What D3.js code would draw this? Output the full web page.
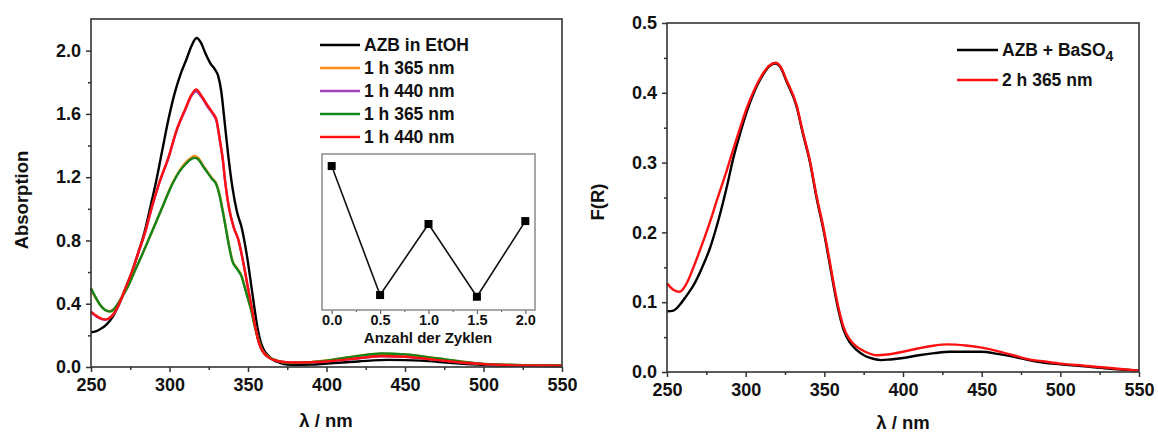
<!DOCTYPE html>
<html>
<head>
    <meta charset="utf-8" />
    <title>AZB spectra</title>
    <style>
        body { margin: 0; background: #fff; }
        svg text { font-family: "Liberation Sans", Arial, sans-serif; font-weight: bold; fill: #111; }
    </style>
</head>
<body>
    <div id="chart"></div>

    <script src="https://d3js.org/d3.v7.min.js"></script>
    <script>
        // ---- data ----
        // left panel: absorption spectra [lambda, A]
        const azbEtoh = [[250,.22],[253,.225],[256,.24],[260,.27],[264,.32],[268,.40],[272.5,.51],[276,.60],[280,.72],[284,.85],[288,1.02],[291.4,1.17],[295.4,1.37],[299,1.55],[303,1.72],[307,1.85],[311,1.95],[314,2.03],[317.3,2.08],[320,2.05],[323,1.98],[326,1.92],[329,1.88],[331,1.84],[333,1.74],[335,1.56],[337.5,1.33],[340,1.14],[343,0.98],[346,0.88],[348,0.78],[350,0.66],[352,0.52],[354,0.38],[356,0.25],[358,0.16],[360,0.11],[363,0.07],[366,0.045],[370,0.028],[375,0.015],[380,0.012],[390,0.015],[400,0.022],[420,0.035],[440,0.045],[460,0.04],[480,0.025],[500,0.013],[525,0.007],[550,0.004]];
        const cyc1uv = [[250,.49],[253,.435],[256,.39],[259,.36],[262,.352],[265,.37],[269,.43],[273.6,.51],[278,.61],[283,.72],[288.6,.85],[295,1.0],[302,1.165],[306,1.235],[310,1.29],[314,1.325],[316,1.335],[318,1.325],[322,1.265],[327,1.195],[330,1.155],[332,1.085],[334,0.985],[336,0.875],[338,0.765],[340,0.675],[343,0.625],[346,0.575],[348,0.505],[350,0.435],[352,0.365],[354,0.275],[356,0.195],[358.7,0.115],[362,0.072],[367,0.046],[372,0.031],[378,0.026],[390,0.031],[400,0.041],[420,0.07],[435,0.084],[450,0.079],[470,0.055],[490,0.03],[500,0.02],[525,0.012],[550,0.01]];
        const cyc1vis = [[250,.345],[254,.315],[259,.298],[263,.318],[267,.378],[272,.497],[276,.597],[280,.717],[284.4,.847],[289,1.017],[293.3,1.157],[299.5,1.327],[304.6,1.495],[310,1.625],[314,1.715],[317,1.742],[320,1.712],[324.5,1.642],[328,1.592],[330,1.552],[332,1.435],[334,1.305],[335.5,1.165],[338,1.0],[341,0.88],[344,0.8],[347,0.66],[350,0.5],[353,0.34],[355,0.235],[357,0.15],[360,0.09],[364,0.055],[370,0.035],[375,0.03],[380,0.028],[390,0.03],[400,0.035],[420,0.054],[435,0.068],[450,0.064],[470,0.045],[490,0.025],[500,0.018],[525,0.01],[550,0.008]];
        const cyc2uv = [[250,.50],[253,.44],[256,.39],[259,.36],[262,.35],[265,.37],[269,.43],[273.6,.51],[278,.61],[283,.72],[288.6,.85],[295,1.0],[302,1.16],[306,1.23],[310,1.28],[314,1.315],[316,1.322],[318,1.315],[322,1.26],[327,1.19],[330,1.15],[332,1.08],[334,0.98],[336,0.87],[338,0.76],[340,0.67],[343,0.62],[346,0.57],[348,0.50],[350,0.43],[352,0.36],[354,0.27],[356,0.19],[358.7,0.11],[362,0.07],[367,0.045],[372,0.03],[378,0.025],[390,0.03],[400,0.04],[420,0.07],[435,0.085],[450,0.08],[470,0.055],[490,0.03],[500,0.02],[525,0.012],[550,0.01]];
        const cyc2vis = [[250,.35],[254,.32],[259,.30],[263,.32],[267,.38],[272,.50],[276,.60],[280,.72],[284.4,.85],[289,1.02],[293.3,1.16],[299.5,1.33],[304.6,1.50],[310,1.63],[314,1.72],[317,1.755],[320,1.72],[324.5,1.65],[328,1.60],[330,1.56],[332,1.44],[334,1.31],[335.5,1.17],[338,1.0],[341,0.88],[344,0.8],[347,0.66],[350,0.5],[353,0.34],[355,0.235],[357,0.15],[360,0.09],[364,0.055],[370,0.035],[375,0.03],[380,0.028],[390,0.03],[400,0.035],[420,0.055],[435,0.07],[450,0.065],[470,0.045],[490,0.025],[500,0.018],[525,0.01],[550,0.008]];
        const leftNames = ["AZB in EtOH", "1 h 365 nm", "1 h 440 nm", "1 h 365 nm", "1 h 440 nm"];
        const leftColors = ["#000000", "#ff8c1a", "#a040b8", "#12861a", "#ff1010"];

        // inset: peak absorption per cycle
        const cycles = [0, 0.5, 1.0, 1.5, 2.0];
        const peakAbs = [2.08, 1.33, 1.743, 1.32, 1.76];

        // right panel: F(R) [lambda, F]
        const azbBaso4 = [[250,.087],[254,.088],[258,.096],[262,.108],[266.8,.124],[272,.148],[277.4,.178],[282,.212],[288,.265],[292,.305],[296.5,.342],[301,.375],[305,.399],[310,.422],[315,.438],[319,.442],[322,.437],[326,.416],[332.4,.38],[336,.345],[341,.299],[345,.25],[349.5,.203],[353,.16],[356,.122],[359,.088],[362.3,.06],[366,.043],[370.8,.031],[376,.023],[381,.019],[386,.017],[392,.018],[400,.02],[410,.024],[420,.027],[430,.029],[440,.029],[450,.029],[460,.026],[470,.022],[480,.017],[490,.013],[500,.011],[515,.008],[530,.005],[550,.002]];
        const irr2h = [[250,.127],[254,.118],[258,.115],[262,.125],[267,.151],[272,.181],[277,.213],[282,.248],[288,.289],[292,.318],[296.5,.35],[301,.38],[305,.402],[310,.424],[315,.439],[319,.443],[322,.438],[326,.418],[332.4,.382],[336,.347],[341,.301],[345,.253],[349.5,.206],[353,.164],[356,.126],[359,.092],[362.3,.064],[366,.047],[370.8,.036],[376,.029],[383.6,.024],[390,.025],[400,.029],[410,.034],[420,.038],[428,.0396],[440,.038],[450,.035],[460,.03],[470,.024],[480,.018],[490,.015],[500,.012],[515,.009],[530,.006],[550,.002]];
        const rightNames = ["AZB + BaSO", "2 h 365 nm"];
        const rightColors = ["#000000", "#ff1010"];

        const xTicks = [250, 300, 350, 400, 450, 500, 550];
        const xMinor = [275, 325, 375, 425, 475, 525];
        const yTicksL = [0, 0.4, 0.8, 1.2, 1.6, 2.0];
        const yMinorL = [0.2, 0.6, 1.0, 1.4, 1.8];
        const yTicksR = [0, 0.1, 0.2, 0.3, 0.4, 0.5];
        const yMinorR = [0.05, 0.15, 0.25, 0.35, 0.45];
        const insetTicks = [0, 0.5, 1.0, 1.5, 2.0];
        const insetMinor = [0.25, 0.75, 1.25, 1.75];

        // ---- drawing ----
        const svg = d3.select("#chart").append("svg")
            .attr("width", 1158).attr("height", 432);

        function frame(g, x, y, color) {
            g.append("rect")
                .attr("x", x.range()[0]).attr("y", y.range()[1])
                .attr("width", x.range()[1] - x.range()[0])
                .attr("height", y.range()[0] - y.range()[1])
                .attr("fill", "none").attr("stroke", color).attr("stroke-width", 1.6);
        }

        function axes(g, x, y, yTicks, yMinor, yFmt) {
            const h = y.range()[0];
            const l = x.range()[0];
            const ax = g.append("g").attr("transform", `translate(0,${h})`)
                .call(d3.axisBottom(x).tickValues(xTicks).tickSize(5).tickPadding(6).tickFormat(d3.format("d")));
            g.append("g").attr("transform", `translate(0,${h})`)
                .call(d3.axisBottom(x).tickValues(xMinor).tickSize(3).tickFormat(""));
            const ay = g.append("g").attr("transform", `translate(${l},0)`)
                .call(d3.axisLeft(y).tickValues(yTicks).tickSize(5).tickPadding(5).tickFormat(d3.format(yFmt)));
            g.append("g").attr("transform", `translate(${l},0)`)
                .call(d3.axisLeft(y).tickValues(yMinor).tickSize(3).tickFormat(""));
            g.selectAll(".domain").remove();
            g.selectAll(".tick line").attr("stroke", "#333").attr("stroke-width", 1.5);
            ax.selectAll("text").style("font-size", "18px").attr("fill", "#111");
            ay.selectAll("text").style("font-size", "18px").attr("fill", "#111");
        }

        const line = (x, y) => d3.line().x(d => x(d[0])).y(d => y(d[1])).curve(d3.curveMonotoneX);

        // left panel
        const xL = d3.scaleLinear().domain([250, 550]).range([91, 562]);
        const yL = d3.scaleLinear().domain([0, 2.2]).range([367, 19]);
        const gL = svg.append("g");
        axes(gL, xL, yL, yTicksL, yMinorL, ".1f");

        const leftSeries = [azbEtoh, cyc1uv, cyc1vis, cyc2uv, cyc2vis];
        const drawOrder = [0, 1, 2, 3, 4];
        gL.selectAll("path.spec")
            .data(drawOrder)
            .enter()
            .append("path")
            .attr("class", "spec")
            .attr("d", i => line(xL, yL)(leftSeries[i]))
            .attr("fill", "none")
            .attr("stroke", i => leftColors[i])
            .attr("stroke-width", 2.4);
        frame(gL, xL, yL, "#333");

        const legL = gL.selectAll("g.leg").data(leftNames).enter().append("g")
            .attr("transform", (d, i) => `translate(320,${45 + i * 23})`);
        legL.append("line").attr("x1", 0).attr("x2", 40)
            .attr("stroke", (d, i) => leftColors[i]).attr("stroke-width", 2.4);
        legL.append("text").attr("x", 44).attr("y", 6).style("font-size", "17.5px").text(d => d);

        gL.append("text")
            .attr("transform", "translate(28,200) rotate(-90)")
            .attr("text-anchor", "middle").style("font-size", "18.5px").text("Absorption");
        gL.append("text").attr("x", 326).attr("y", 427)
            .attr("text-anchor", "middle").style("font-size", "18.5px").text("λ / nm");

        // inset
        const xI = d3.scaleLinear().domain([-0.1, 2.1]).range([322, 535]);
        const yI = d3.scaleLinear().domain([1.243, 2.15]).range([310, 154]);
        const gI = svg.append("g");
        const ix = gI.append("g").attr("transform", "translate(0,310)")
            .call(d3.axisBottom(xI).tickValues(insetTicks).tickSize(4).tickPadding(1).tickFormat(d3.format(".1f")));
        gI.append("g").attr("transform", "translate(0,310)")
            .call(d3.axisBottom(xI).tickValues(insetMinor).tickSize(2).tickFormat(""));
        gI.selectAll(".domain").remove();
        gI.selectAll(".tick line").attr("stroke", "#666").attr("stroke-width", 1.2);
        ix.selectAll("text").style("font-size", "14.5px").attr("fill", "#111");
        gI.append("rect").attr("x", 322).attr("y", 154).attr("width", 213).attr("height", 156)
            .attr("fill", "none").attr("stroke", "#8a8a8a").attr("stroke-width", 1.5);
        const insetPts = cycles.map((c, i) => [c, peakAbs[i]]);
        gI.append("path")
            .attr("d", d3.line().x(d => xI(d[0])).y(d => yI(d[1]))(insetPts))
            .attr("fill", "none").attr("stroke", "#111").attr("stroke-width", 1.6);
        gI.selectAll("rect.pt").data(insetPts).enter().append("rect")
            .attr("class", "pt")
            .attr("x", d => xI(d[0]) - 4).attr("y", d => yI(d[1]) - 4)
            .attr("width", 8).attr("height", 8).attr("fill", "#000");
        gI.append("text").attr("x", 428).attr("y", 343)
            .attr("text-anchor", "middle").style("font-size", "15px").text("Anzahl der Zyklen");

        // right panel
        const xR = d3.scaleLinear().domain([250, 550]).range([667, 1139]);
        const yR = d3.scaleLinear().domain([0, 0.5]).range([372, 23]);
        const gR = svg.append("g");
        axes(gR, xR, yR, yTicksR, yMinorR, ".1f");

        const rightSeries = [azbBaso4, irr2h];
        gR.selectAll("path.spec")
            .data(rightSeries)
            .enter()
            .append("path")
            .attr("class", "spec")
            .attr("d", d => line(xR, yR)(d))
            .attr("fill", "none")
            .attr("stroke", (d, i) => rightColors[i])
            .attr("stroke-width", 2.4);
        frame(gR, xR, yR, "#333");

        const legR = gR.selectAll("g.leg").data(rightNames).enter().append("g")
            .attr("transform", (d, i) => `translate(957,${50 + i * 30})`);
        legR.append("line").attr("x1", 0).attr("x2", 41)
            .attr("stroke", (d, i) => rightColors[i]).attr("stroke-width", 2.4);
        const legRt = legR.append("text").attr("x", 45).attr("y", 6).style("font-size", "17.5px");
        legRt.append("tspan").text(d => d);
        legRt.filter((d, i) => i === 0).append("tspan")
            .attr("dy", 5).style("font-size", "14px").text("4");

        gR.append("text")
            .attr("transform", "translate(604,202) rotate(-90)")
            .attr("text-anchor", "middle").style("font-size", "18.5px").text("F(R)");
        gR.append("text").attr("x", 903).attr("y", 429)
            .attr("text-anchor", "middle").style("font-size", "18.5px").text("λ / nm");
    </script>
</body>
</html>
